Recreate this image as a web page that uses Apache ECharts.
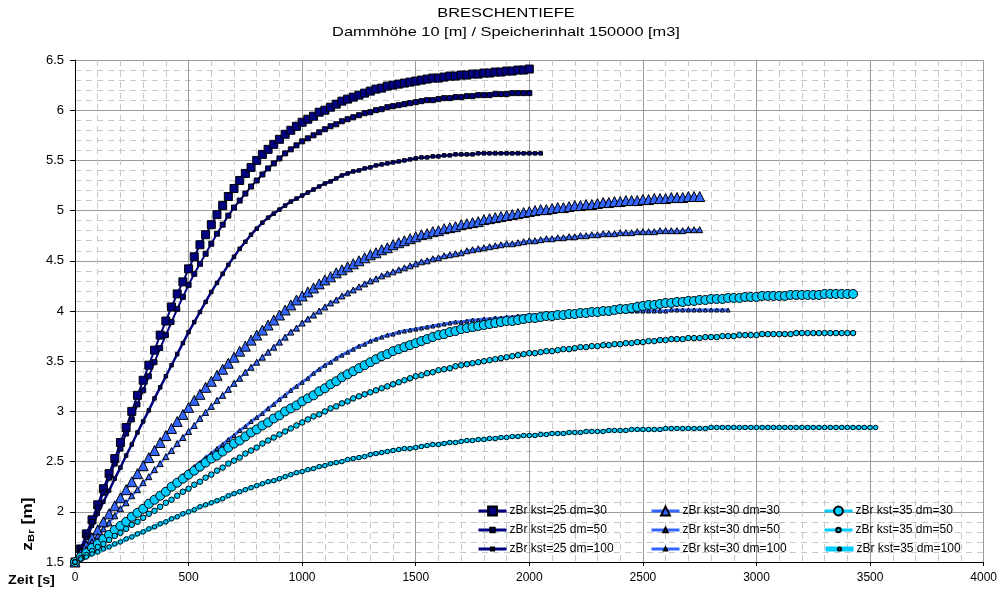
<!DOCTYPE html>
<html>
<head>
<meta charset="utf-8">
<title>Breschentiefe</title>
<script src="https://cdn.jsdelivr.net/npm/echarts@6/dist/echarts.min.js"></script>
<style>
  html, body { margin: 0; padding: 0; background: #fff; }
  #chart { width: 1000px; height: 595px; }
</style>
</head>
<body>
<div id="chart"></div>
<script>
// Time step of the breach computation [s]; every value below is one step apart, starting at t = 0.
const STEP = 25;

// Axis ticks
const xTicks = [0, 500, 1000, 1500, 2000, 2500, 3000, 3500, 4000];
const yTicks = [1.5, 2, 2.5, 3, 3.5, 4, 4.5, 5, 5.5, 6, 6.5];

// Breach depth zBr [m] for Strickler value kst and grain diameter dm
const zBr_25_30 = [
  1.50,1.63,1.78,1.92,2.07,2.23,2.38,2.53,2.69,2.84,
  3.00,3.16,3.31,3.46,3.61,3.76,3.90,4.04,4.17,4.29,
  4.42,4.54,4.66,4.76,4.86,4.96,5.05,5.14,5.22,5.30,
  5.37,5.43,5.50,5.56,5.61,5.66,5.71,5.76,5.80,5.84,
  5.88,5.91,5.94,5.98,6.00,6.03,6.06,6.09,6.11,6.13,
  6.15,6.17,6.19,6.21,6.22,6.24,6.25,6.26,6.27,6.28,
  6.29,6.30,6.31,6.32,6.32,6.33,6.34,6.34,6.35,6.35,
  6.36,6.36,6.37,6.37,6.38,6.38,6.39,6.39,6.40,6.40,
  6.41
];
const zBr_25_50 = [
  1.50,1.62,1.76,1.90,2.04,2.19,2.34,2.48,2.63,2.78,
  2.92,3.07,3.21,3.35,3.49,3.63,3.76,3.89,4.02,4.14,
  4.26,4.37,4.47,4.57,4.67,4.77,4.86,4.95,5.03,5.10,
  5.17,5.24,5.30,5.36,5.42,5.47,5.52,5.57,5.61,5.65,
  5.69,5.72,5.75,5.78,5.81,5.84,5.86,5.89,5.91,5.93,
  5.95,5.97,5.98,6.00,6.01,6.03,6.04,6.05,6.06,6.07,
  6.08,6.09,6.10,6.10,6.11,6.12,6.12,6.13,6.13,6.14,
  6.14,6.15,6.15,6.15,6.16,6.16,6.16,6.17,6.17,6.17,
  6.17
];
const zBr_25_100 = [
  1.50,1.62,1.74,1.86,1.98,2.10,2.21,2.33,2.44,2.56,
  2.67,2.79,2.90,3.01,3.13,3.24,3.35,3.46,3.57,3.68,
  3.79,3.89,3.99,4.09,4.19,4.28,4.37,4.46,4.54,4.62,
  4.69,4.76,4.82,4.88,4.93,4.97,5.01,5.05,5.09,5.12,
  5.15,5.18,5.21,5.24,5.27,5.29,5.32,5.35,5.37,5.39,
  5.40,5.42,5.43,5.45,5.46,5.47,5.48,5.49,5.50,5.51,
  5.52,5.53,5.53,5.54,5.54,5.55,5.55,5.56,5.56,5.56,
  5.56,5.57,5.57,5.57,5.57,5.57,5.57,5.57,5.57,5.57,
  5.57,5.57,5.57
];
const zBr_30_30 = [
  1.50,1.58,1.66,1.74,1.82,1.90,1.98,2.06,2.14,2.22,
  2.30,2.38,2.46,2.54,2.61,2.69,2.76,2.83,2.90,2.97,
  3.04,3.11,3.17,3.24,3.30,3.36,3.42,3.48,3.54,3.60,
  3.65,3.71,3.76,3.81,3.86,3.91,3.96,4.01,4.06,4.11,
  4.15,4.19,4.23,4.27,4.31,4.34,4.38,4.41,4.44,4.47,
  4.50,4.53,4.56,4.58,4.61,4.63,4.66,4.68,4.70,4.72,
  4.74,4.76,4.77,4.79,4.80,4.82,4.83,4.84,4.86,4.87,
  4.88,4.89,4.91,4.92,4.93,4.94,4.95,4.96,4.97,4.98,
  4.99,5.00,5.01,5.01,5.02,5.03,5.03,5.04,5.05,5.05,
  5.06,5.06,5.07,5.08,5.08,5.09,5.09,5.10,5.10,5.10,
  5.11,5.11,5.12,5.12,5.12,5.13,5.13,5.13,5.14,5.14,
  5.14
];
const zBr_30_50 = [
  1.50,1.57,1.63,1.70,1.76,1.83,1.89,1.96,2.03,2.09,
  2.16,2.22,2.29,2.35,2.42,2.48,2.55,2.61,2.68,2.74,
  2.80,2.86,2.93,2.99,3.05,3.11,3.16,3.22,3.28,3.33,
  3.39,3.44,3.49,3.54,3.59,3.64,3.69,3.74,3.79,3.83,
  3.88,3.92,3.96,4.00,4.04,4.08,4.11,4.15,4.18,4.21,
  4.24,4.27,4.30,4.32,4.35,4.37,4.39,4.41,4.43,4.45,
  4.47,4.49,4.50,4.52,4.53,4.55,4.56,4.57,4.58,4.60,
  4.61,4.62,4.63,4.64,4.65,4.66,4.67,4.67,4.68,4.69,
  4.70,4.70,4.71,4.72,4.72,4.73,4.73,4.74,4.74,4.75,
  4.75,4.76,4.76,4.77,4.77,4.77,4.78,4.78,4.78,4.79,
  4.79,4.79,4.79,4.80,4.80,4.80,4.80,4.80,4.81,4.81,
  4.81
];
const zBr_30_100 = [
  1.50,1.55,1.59,1.64,1.68,1.73,1.77,1.82,1.86,1.91,
  1.95,2.00,2.04,2.09,2.13,2.18,2.22,2.27,2.31,2.36,
  2.40,2.45,2.49,2.54,2.58,2.63,2.67,2.72,2.76,2.81,
  2.85,2.90,2.94,2.98,3.03,3.07,3.12,3.16,3.21,3.25,
  3.29,3.33,3.38,3.42,3.46,3.49,3.53,3.56,3.59,3.62,
  3.65,3.67,3.70,3.72,3.74,3.76,3.77,3.79,3.80,3.81,
  3.82,3.83,3.84,3.85,3.86,3.87,3.88,3.89,3.89,3.90,
  3.91,3.91,3.92,3.92,3.93,3.93,3.94,3.94,3.95,3.95,
  3.96,3.96,3.96,3.97,3.97,3.97,3.98,3.98,3.98,3.98,
  3.99,3.99,3.99,3.99,3.99,4.00,4.00,4.00,4.00,4.00,
  4.00,4.00,4.00,4.00,4.00,4.01,4.01,4.01,4.01,4.01,
  4.01,4.01,4.01,4.01,4.01,4.01
];
const zBr_35_30 = [
  1.50,1.55,1.59,1.64,1.68,1.73,1.77,1.82,1.86,1.90,
  1.95,1.99,2.03,2.08,2.12,2.16,2.20,2.25,2.29,2.33,
  2.37,2.41,2.45,2.49,2.53,2.56,2.60,2.64,2.68,2.71,
  2.75,2.79,2.82,2.86,2.89,2.93,2.96,3.00,3.03,3.06,
  3.10,3.13,3.16,3.20,3.23,3.27,3.30,3.34,3.37,3.40,
  3.43,3.46,3.49,3.52,3.55,3.57,3.60,3.62,3.64,3.66,
  3.68,3.70,3.72,3.74,3.76,3.77,3.79,3.80,3.82,3.83,
  3.84,3.85,3.86,3.87,3.88,3.89,3.90,3.90,3.91,3.92,
  3.93,3.93,3.94,3.95,3.95,3.96,3.96,3.97,3.97,3.98,
  3.98,3.99,3.99,4.00,4.00,4.01,4.02,4.02,4.03,4.04,
  4.05,4.06,4.06,4.07,4.08,4.08,4.09,4.09,4.10,4.10,
  4.11,4.11,4.12,4.12,4.12,4.13,4.13,4.13,4.14,4.14,
  4.14,4.15,4.15,4.15,4.15,4.15,4.16,4.16,4.16,4.16,
  4.16,4.16,4.17,4.17,4.17,4.17,4.17,4.17
];
const zBr_35_50 = [
  1.50,1.54,1.57,1.61,1.65,1.68,1.72,1.76,1.79,1.83,
  1.87,1.90,1.94,1.98,2.01,2.05,2.09,2.12,2.16,2.20,
  2.23,2.27,2.30,2.34,2.37,2.41,2.44,2.48,2.51,2.54,
  2.58,2.61,2.64,2.68,2.71,2.74,2.77,2.80,2.83,2.86,
  2.89,2.92,2.95,2.97,3.00,3.03,3.05,3.08,3.10,3.13,
  3.15,3.17,3.19,3.21,3.23,3.25,3.27,3.29,3.31,3.33,
  3.35,3.36,3.38,3.39,3.41,3.42,3.43,3.45,3.46,3.47,
  3.48,3.49,3.50,3.51,3.52,3.53,3.54,3.55,3.56,3.57,
  3.58,3.58,3.59,3.60,3.60,3.61,3.62,3.62,3.63,3.64,
  3.64,3.65,3.65,3.66,3.66,3.67,3.67,3.68,3.68,3.69,
  3.69,3.70,3.70,3.71,3.71,3.72,3.72,3.72,3.73,3.73,
  3.73,3.74,3.74,3.74,3.75,3.75,3.75,3.76,3.76,3.76,
  3.76,3.77,3.77,3.77,3.77,3.77,3.77,3.78,3.78,3.78,
  3.78,3.78,3.78,3.78,3.78,3.78,3.78,3.78
];
const zBr_35_100 = [
  1.50,1.53,1.55,1.58,1.60,1.63,1.65,1.68,1.70,1.73,
  1.75,1.78,1.80,1.83,1.85,1.88,1.90,1.93,1.95,1.98,
  2.00,2.02,2.05,2.07,2.09,2.11,2.13,2.16,2.18,2.20,
  2.22,2.24,2.26,2.28,2.30,2.31,2.33,2.35,2.37,2.39,
  2.40,2.42,2.43,2.45,2.46,2.48,2.49,2.50,2.52,2.53,
  2.54,2.55,2.57,2.58,2.59,2.60,2.61,2.62,2.63,2.63,
  2.64,2.65,2.66,2.67,2.67,2.68,2.69,2.69,2.70,2.71,
  2.71,2.72,2.72,2.73,2.73,2.74,2.74,2.75,2.75,2.76,
  2.76,2.76,2.77,2.77,2.78,2.78,2.78,2.79,2.79,2.79,
  2.80,2.80,2.80,2.80,2.81,2.81,2.81,2.81,2.82,2.82,
  2.82,2.82,2.82,2.82,2.83,2.83,2.83,2.83,2.83,2.83,
  2.83,2.83,2.84,2.84,2.84,2.84,2.84,2.84,2.84,2.84,
  2.84,2.84,2.84,2.84,2.84,2.84,2.84,2.84,2.84,2.84,
  2.84,2.84,2.84,2.84,2.84,2.84,2.84,2.84,2.84,2.84,
  2.84,2.84
];

const FONT = '"Liberation Sans", Arial, sans-serif';
const NAVY = '#000080';
const BLUE = '#3366FF';
const CYAN = '#00CCFF';

// One entry per curve: marker shape/size and line look (legendLine = stroke width of the legend sample)
const curves = [
  { name: 'zBr kst=25 dm=30',  values: zBr_25_30,  symbol: 'rect',     size: 8,   color: NAVY, width: 2,   legendLine: 3 },
  { name: 'zBr kst=25 dm=50',  values: zBr_25_50,  symbol: 'rect',     size: 5,   color: NAVY, width: 2,   legendLine: 3 },
  { name: 'zBr kst=25 dm=100', values: zBr_25_100, symbol: 'rect',     size: 3.5, color: NAVY, width: 2.5, legendLine: 3 },
  { name: 'zBr kst=30 dm=30',  values: zBr_30_30,  symbol: 'triangle', size: 10,  color: BLUE, width: 2,   legendLine: 3 },
  { name: 'zBr kst=30 dm=50',  values: zBr_30_50,  symbol: 'triangle', size: 6,   color: BLUE, width: 2,   legendLine: 3 },
  { name: 'zBr kst=30 dm=100', values: zBr_30_100, symbol: 'triangle', size: 4,   color: BLUE, width: 3,   legendLine: 3 },
  { name: 'zBr kst=35 dm=30',  values: zBr_35_30,  symbol: 'circle',   size: 9,   color: CYAN, width: 2,   legendLine: 3 },
  { name: 'zBr kst=35 dm=50',  values: zBr_35_50,  symbol: 'circle',   size: 5.5, color: CYAN, width: 2,   legendLine: 3 },
  { name: 'zBr kst=35 dm=100', values: zBr_35_100, symbol: 'circle',   size: 4.5, color: CYAN, width: 4,   legendLine: 5 }
];

const series = curves.map(c => ({
  name: c.name,
  type: 'line',
  data: c.values.map((v, i) => [i * STEP, v]),
  symbol: c.symbol,
  symbolSize: c.size,
  showSymbol: true,
  showAllSymbol: true,
  smooth: false,
  clip: true,
  lineStyle: { color: c.color, width: c.width },
  itemStyle: { color: c.color, borderColor: '#000', borderWidth: 1 },
  emphasis: { disabled: true },
  silent: true,
  animation: false
}));

// Legend: three columns (kst) by three rows (dm), one small legend per entry
const legendCols = [477, 650, 823];
const legendRows = [505, 524, 543];
const legendIconH = [11, 5.5, 4];
const legends = curves.map((c, i) => {
  const col = Math.floor(i / 3);
  const row = i % 3;
  return {
    data: [c.name],
    left: legendCols[col],
    top: legendRows[row],
    padding: 0,
    itemGap: 0,
    itemWidth: 28,
    itemHeight: legendIconH[row],
    selectedMode: false,
    lineStyle: { width: c.legendLine },
    textStyle: { fontFamily: FONT, fontSize: 12, color: '#000', padding: [0, 0, 0, -2] }
  };
});

const chart = echarts.init(document.getElementById('chart'), null, { renderer: 'canvas' });
chart.setOption({
  backgroundColor: '#fff',
  animation: false,
  textStyle: { fontFamily: FONT },
  grid: { left: 75, right: 12, top: 60, bottom: 33, containLabel: false },
  xAxis: {
    type: 'value',
    min: xTicks[0],
    max: xTicks[xTicks.length - 1],
    interval: xTicks[1] - xTicks[0],
    axisLine: { show: true, onZero: false, lineStyle: { color: '#000', width: 1 } },
    axisTick: { show: true, length: 4, lineStyle: { color: '#000' } },
    axisLabel: { color: '#000', fontSize: 12, margin: 10, fontFamily: FONT, formatter: v => String(v) },
    splitLine: { show: true, lineStyle: { color: '#9a9a9a', width: 1 } },
    minorTick: { show: false, splitNumber: 5 },
    minorSplitLine: { show: true, lineStyle: { color: '#c8c8c8', width: 1, type: [6, 5] } }
  },
  yAxis: {
    type: 'value',
    min: yTicks[0],
    max: yTicks[yTicks.length - 1],
    interval: yTicks[1] - yTicks[0],
    axisLine: { show: true, onZero: false, lineStyle: { color: '#000', width: 1 } },
    axisTick: { show: true, length: 5, lineStyle: { color: '#000' } },
    axisLabel: { color: '#000', fontSize: 13, margin: 11, fontFamily: FONT, formatter: v => String(v) },
    splitLine: { show: true, lineStyle: { color: '#9a9a9a', width: 1 } },
    minorTick: { show: false, splitNumber: 5 },
    minorSplitLine: { show: true, lineStyle: { color: '#c8c8c8', width: 1, type: [6, 5] } }
  },
  legend: legends,
  graphic: [
    {
      type: 'text', x: 506, y: 13, scaleX: 1.26,
      style: { text: 'BRESCHENTIEFE', fontFamily: FONT, fontSize: 13, fill: '#000', align: 'center', verticalAlign: 'middle' }
    },
    {
      type: 'text', x: 506, y: 32, scaleX: 1.26,
      style: { text: 'Dammhöhe 10 [m] / Speicherinhalt 150000 [m3]', fontFamily: FONT, fontSize: 13, fill: '#000', align: 'center', verticalAlign: 'middle' }
    },
    {
      type: 'text', x: 28, y: 524, rotation: Math.PI / 2, scaleX: 1.25,
      style: {
        text: '{z|z}{s|Br}{z| [m]}',
        align: 'center', verticalAlign: 'middle',
        rich: {
          z: { fontFamily: FONT, fontSize: 14, fontWeight: 'bold', fill: '#000', lineHeight: 17 },
          s: { fontFamily: FONT, fontSize: 9, fontWeight: 'bold', fill: '#000', lineHeight: 17, verticalAlign: 'bottom' }
        }
      }
    },
    {
      type: 'text', x: 8, y: 580, scaleX: 1.1,
      style: { text: 'Zeit [s]', fontFamily: FONT, fontSize: 13, fontWeight: 'bold', fill: '#000', align: 'left', verticalAlign: 'middle' }
    }
  ],
  series: series
});
</script>
</body>
</html>
